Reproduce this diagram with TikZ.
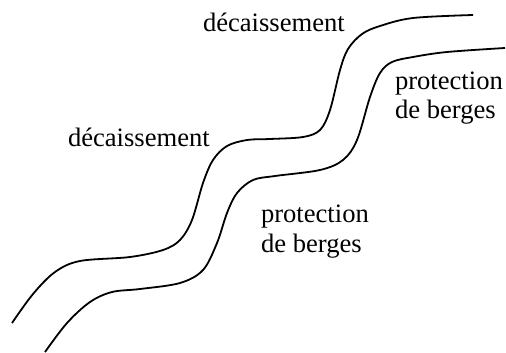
\documentclass[tikz,border=0pt]{standalone}
\usepackage{fontspec}
\setmainfont{Liberation Serif}
\begin{document}
\begin{tikzpicture}[x=0.5pt,y=-0.5pt,
  bank/.style={line width=0.9pt,black},
  lbl/.style={inner sep=0pt,outer sep=0pt,font=\fontsize{13.3}{14.8}\selectfont,align=left,anchor=base west}]
\useasboundingbox (0,0) rectangle (506,352);
\draw[bank] plot[smooth,tension=0.55] coordinates {(12,323) (33,294) (55,272) (80,261) (130,257) (163,250) (180,240) (192,220) (203,183) (213,160) (227,146) (247,140) (270,139) (303,137) (320,130) (330,110) (340,70) (348,49) (362,34) (380,26) (413,18) (473,15)};
\draw[bank] plot[smooth,tension=0.55] coordinates {(45,352) (67,323) (90,302) (112,292) (140,289) (180,283) (203,270) (217,243) (227,213) (237,193) (253,180) (275,176) (320,170) (343,160) (357,140) (370,97) (380,73) (392,62) (413,57) (447,52) (505,48)};
\node[lbl] (d1) at (203,32) {décaissement};
\node[lbl] (d2) at (68,146) {décaissement};
\node[lbl] (p1) at (395,119) {protection\\de berges};
\node[lbl] (p2) at (261,252) {protection\\de berges};
\end{tikzpicture}
\end{document}
